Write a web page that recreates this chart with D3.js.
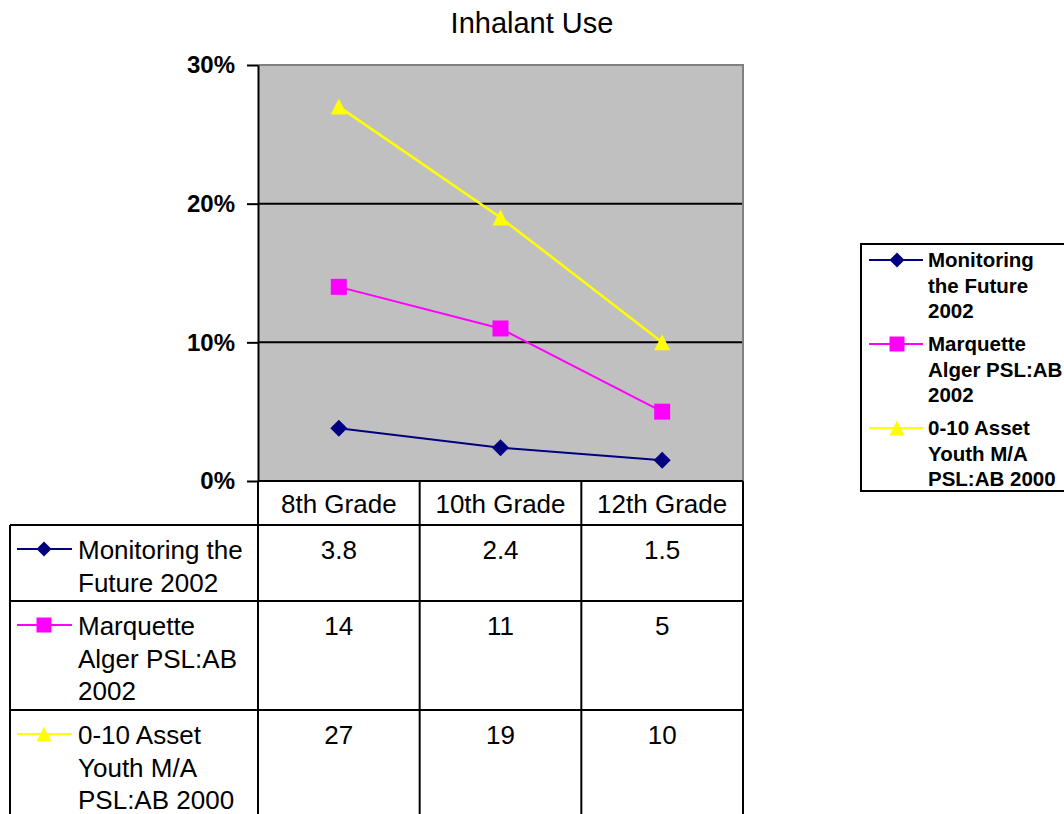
<!DOCTYPE html>
<html>
<head>
<meta charset="utf-8">
<script src="https://cdn.jsdelivr.net/npm/d3@7"></script>
<style>
  html, body { margin: 0; padding: 0; background: #fff; }
  svg { display: block; font-family: "Liberation Sans", Arial, sans-serif; }
</style>
</head>
<body>
<svg id="chart" width="1064" height="814"></svg>
<script>
// Chart data
const title = "Inhalant Use";
const categories = ["8th Grade", "10th Grade", "12th Grade"];
const seriesNames = [
  "Monitoring the Future 2002",
  "Marquette Alger PSL:AB 2002",
  "0-10 Asset Youth M/A PSL:AB 2000"
];
const monitoringValues = [3.8, 2.4, 1.5];
const marquetteValues = [14, 11, 5];
const assetValues = [27, 19, 10];
const yTicks = [0, 10, 20, 30];

const seriesColors = ["#000080", "#FF00FF", "#FFFF00"];
const seriesShapes = ["diamond", "square", "triangle"];
const seriesValues = [monitoringValues, marquetteValues, assetValues];

const series = seriesNames.map((name, i) => ({
  name, values: seriesValues[i], color: seriesColors[i], shape: seriesShapes[i]
}));

const svg = d3.select("#chart");

// Plot geometry
const plot = { left: 258, right: 743, top: 65, bottom: 481 };

const x = d3.scaleBand().domain(categories).range([plot.left, plot.right]).padding(0);
const xc = c => x(c) + x.bandwidth() / 2;
const y = d3.scaleLinear().domain([0, 30]).range([plot.bottom, plot.top]);

// Marker shapes
function markerPath(shape, s) {
  const h = s / 2;
  if (shape === "diamond") return `M0,${-h}L${h},0L0,${h}L${-h},0Z`;
  if (shape === "square") return `M${-h},${-h}H${h}V${h}H${-h}Z`;
  return `M0,${-h}L${h},${h}L${-h},${h}Z`;
}
const markerSize = { diamond: 17, square: 16, triangle: 16 };

// Title
svg.append("text")
  .attr("x", 532).attr("y", 33)
  .attr("text-anchor", "middle")
  .attr("font-size", 29)
  .text(title);

// Plot background
svg.append("rect")
  .attr("x", plot.left).attr("y", plot.top)
  .attr("width", plot.right - plot.left).attr("height", plot.bottom - plot.top)
  .attr("fill", "#C0C0C0");

// Grid lines
svg.append("g").selectAll("line")
  .data(yTicks.filter(t => t > 0 && t < 30))
  .join("line")
  .attr("x1", plot.left).attr("x2", plot.right)
  .attr("y1", d => y(d)).attr("y2", d => y(d))
  .attr("stroke", "#000").attr("stroke-width", 2);

// Top and right plot border
svg.append("path")
  .attr("d", `M${plot.left},${plot.top}H${plot.right}V${plot.bottom}`)
  .attr("fill", "none").attr("stroke", "#808080").attr("stroke-width", 2);

// Y axis
const yAxis = svg.append("g")
  .attr("transform", `translate(${plot.left},0)`)
  .call(d3.axisLeft(y).tickValues(yTicks).tickSize(11).tickSizeOuter(0).tickPadding(12)
    .tickFormat(d => d + "%"));
yAxis.select(".domain").attr("stroke", "#000").attr("stroke-width", 2);
yAxis.selectAll(".tick line").attr("stroke", "#000").attr("stroke-width", 2);
yAxis.selectAll(".tick text")
  .attr("font-family", "'Liberation Sans', Arial, sans-serif")
  .attr("font-size", 24).attr("font-weight", "bold").attr("fill", "#000")
  .attr("dy", "0.32em");

// Series lines and markers
const line = d3.line().x((d, i) => xc(categories[i])).y(d => y(d));
series.forEach(s => {
  svg.append("path")
    .attr("d", line(s.values))
    .attr("fill", "none")
    .attr("stroke", s.color)
    .attr("stroke-width", s.shape === "triangle" ? 2.5 : 2);
  svg.append("g").selectAll("path")
    .data(s.values)
    .join("path")
    .attr("transform", (d, i) => `translate(${xc(categories[i])},${y(d)})`)
    .attr("d", markerPath(s.shape, markerSize[s.shape]))
    .attr("fill", s.color);
});

// Word wrap helper using measured text widths
function wrapLines(text, fontSize, weight, maxWidth) {
  const probe = svg.append("text")
    .attr("font-size", fontSize).attr("font-weight", weight)
    .attr("visibility", "hidden");
  const words = text.split(" ");
  const lines = [];
  let cur = "";
  words.forEach(w => {
    const test = cur ? cur + " " + w : w;
    probe.text(test);
    if (cur && probe.node().getComputedTextLength() > maxWidth) {
      lines.push(cur);
      cur = w;
    } else {
      cur = test;
    }
  });
  if (cur) lines.push(cur);
  probe.remove();
  return lines;
}

// Data table under the plot
const table = svg.append("g");
const tableLeft = 10;
const headerTop = plot.bottom;
const headerBottom = 525;
const lineGap = 32.5;
function hLine(x1, x2, yy) {
  table.append("line").attr("x1", x1).attr("x2", x2).attr("y1", yy).attr("y2", yy)
    .attr("stroke", "#000").attr("stroke-width", 2);
}
function vLine(xx, y1, y2) {
  table.append("line").attr("x1", xx).attr("x2", xx).attr("y1", y1).attr("y2", y2)
    .attr("stroke", "#000").attr("stroke-width", 2);
}

// Header row
hLine(plot.left, plot.right, headerTop);
categories.forEach(c => {
  table.append("text")
    .attr("x", xc(c)).attr("y", 513)
    .attr("text-anchor", "middle").attr("font-size", 26)
    .text(c);
});

// Series rows
let rowTop = headerBottom;
series.forEach(s => {
  const lines = wrapLines(s.name, 26, "normal", 178);
  const rowH = 10 + lines.length * 33;
  hLine(tableLeft, plot.right, rowTop);
  // key
  const keyY = rowTop + 24;
  table.append("line").attr("x1", 17).attr("x2", 72).attr("y1", keyY).attr("y2", keyY)
    .attr("stroke", s.color).attr("stroke-width", 2);
  table.append("path")
    .attr("transform", `translate(44,${keyY})`)
    .attr("d", markerPath(s.shape, 15))
    .attr("fill", s.color);
  // label
  lines.forEach((ln, j) => {
    table.append("text")
      .attr("x", 78).attr("y", rowTop + 34 + j * lineGap)
      .attr("font-size", 26).text(ln);
  });
  // values
  s.values.forEach((v, i) => {
    table.append("text")
      .attr("x", xc(categories[i])).attr("y", rowTop + 34)
      .attr("text-anchor", "middle").attr("font-size", 26)
      .text(v);
  });
  rowTop += rowH;
});
hLine(tableLeft, plot.right, rowTop);

// Vertical table lines
vLine(tableLeft, headerBottom, rowTop);
vLine(plot.left, headerTop, rowTop);
categories.forEach((c, i) => {
  if (i > 0) vLine(x(c), headerTop, rowTop);
});
vLine(plot.right, headerTop, rowTop);

// Legend
const legend = svg.append("g");
const legendTextX = 928;
const legendFont = 20.5;
const legendLine = 25.5;
let cursor = 267;
let lastBaseline = cursor;
const legendItems = [];
series.forEach(s => {
  const lines = wrapLines(s.name, legendFont, "bold", 138);
  legendItems.push({ s, lines, y0: cursor });
  lastBaseline = cursor + (lines.length - 1) * legendLine;
  cursor += lines.length * legendLine + 7.5;
});
legend.append("rect")
  .attr("x", 861).attr("y", 244)
  .attr("width", 260).attr("height", lastBaseline + 5 - 244)
  .attr("fill", "#fff").attr("stroke", "#000").attr("stroke-width", 2);
legendItems.forEach(({ s, lines, y0 }) => {
  const ly = y0 - 7;
  legend.append("line").attr("x1", 869).attr("x2", 923).attr("y1", ly).attr("y2", ly)
    .attr("stroke", s.color).attr("stroke-width", 2);
  legend.append("path")
    .attr("transform", `translate(897,${ly})`)
    .attr("d", markerPath(s.shape, 15))
    .attr("fill", s.color);
  lines.forEach((ln, j) => {
    legend.append("text")
      .attr("x", legendTextX).attr("y", y0 + j * legendLine)
      .attr("font-size", legendFont).attr("font-weight", "bold")
      .text(ln);
  });
});
</script>
</body>
</html>
